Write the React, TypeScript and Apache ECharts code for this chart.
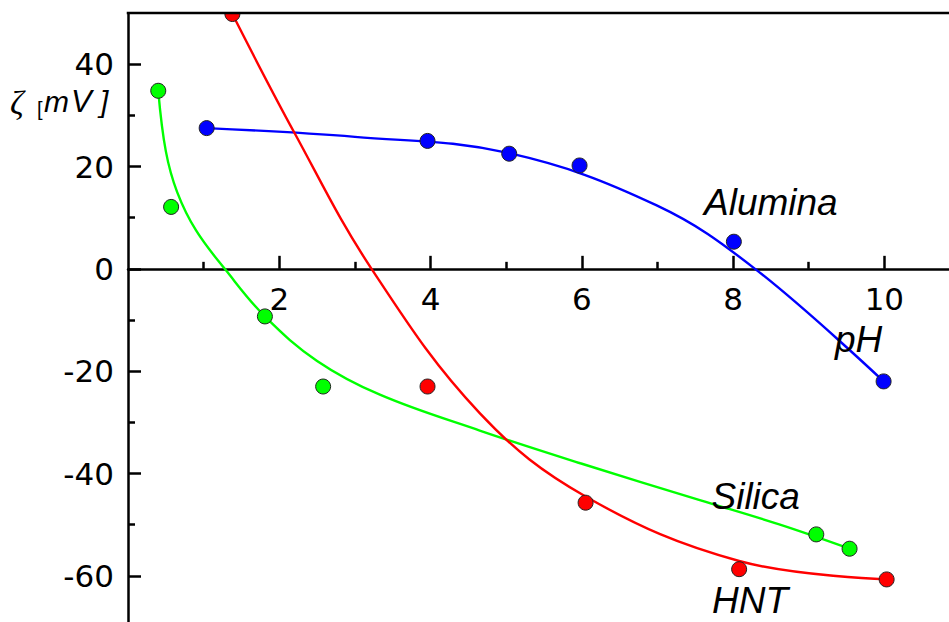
import React, { useEffect, useRef } from "react";
import * as echarts from "echarts";

// Axis ticks / labels
const xMajor = [2, 4, 6, 8, 10];
const xMinor = [1, 3, 5, 7, 9];
const yMajor = [-60, -40, -20, 0, 20, 40];
const yMinor = [-50, -30, -10, 10, 30];

// Measured points [pH, zeta mV]
const aluminaPts = [[1.04, 27.5], [3.96, 25.0], [5.04, 22.5], [5.97, 20.2], [8.01, 5.3], [9.99, -22.0]];
const silicaPts = [[0.4, 34.8], [0.57, 12.1], [1.81, -9.3], [2.58, -23.0], [9.1, -51.9], [9.54, -54.7]];
const hntPts = [[1.38, 49.8], [3.96, -23.0], [6.05, -45.7], [8.08, -58.7], [10.03, -60.7]];

// Fitted curves
const aluminaFit = [[1.04, 27.5], [3.0, 25.8], [5.04, 22.6], [6.99, 12.4], [8.29, 0], [9.99, -22.0]];
const silicaFit = [[0.4, 34.8], [0.5, 23.0], [0.65, 15.0], [0.9, 7.5], [1.29, -0.2], [1.81, -9.3], [2.5, -18.0], [3.33, -24.6], [4.65, -31.6], [5.98, -38.0], [7.56, -45.2], [8.62, -50.0], [9.54, -54.7]];
const hntFit = [[1.38, 49.8], [2.2, 26.6], [3.22, 0], [4.65, -28.2], [6.05, -44.5], [8.08, -57.1], [10.03, -60.7]];

const BLUE = "#0000ff";
const GREEN = "#00ff00";
const RED = "#ff0000";

export default function App() {
  const ref = useRef<HTMLDivElement>(null);
  useEffect(() => {
    if (!ref.current) return;
    const chart = echarts.init(ref.current, null, { renderer: "svg" });
    const axisLineStyle = { color: "#000", width: 2.5 };
    const tickFont = { color: "#000", fontFamily: "DejaVu Sans", fontSize: 31 };
    const lineSeries = (name: string, data: number[][], color: string) => ({
      name,
      type: "line",
      data,
      smooth: 0.38,
      showSymbol: false,
      symbol: "none",
      lineStyle: { color, width: 2.4 },
      z: 2,
    });
    const ptSeries = (name: string, data: number[][], color: string) => ({
      name,
      type: "scatter",
      data,
      symbol: "circle",
      symbolSize: 15,
      itemStyle: { color, borderColor: "#222", borderWidth: 1, opacity: 1 },
      z: 3,
    });
    const annFont = 'italic 37px "Liberation Sans", Arial, sans-serif';
    const txt = (text: string, x: number, y: number, font: string) => ({
      type: "text",
      x,
      y,
      style: { text, font, fill: "#000", textAlign: "left", textVerticalAlign: "middle" },
      z: 50,
    });
    const option: any = {
      animation: false,
      backgroundColor: "#fff",
      grid: {
        left: 128,
        top: 13,
        right: -11,
        bottom: -5,
        show: false,
        containLabel: false,
        outerBoundsMode: "none",
      },
      xAxis: [
        {
          type: "value",
          min: 0,
          max: 11,
          interval: 1,
          position: "bottom",
          axisLine: { show: true, onZero: true, onZeroAxisIndex: 0, lineStyle: axisLineStyle },
          axisTick: { show: true, inside: true, length: 13, customValues: xMajor, lineStyle: axisLineStyle },
          axisLabel: { show: false },
          splitLine: { show: false },
        },
        {
          type: "value",
          min: 0,
          max: 11,
          interval: 1,
          position: "bottom",
          axisLine: { show: false, onZero: true, onZeroAxisIndex: 0 },
          axisTick: { show: true, inside: true, length: 7, customValues: xMinor, lineStyle: axisLineStyle },
          axisLabel: { show: false },
          splitLine: { show: false },
        },
        {
          // tick labels just below the zero line
          type: "value",
          min: 0,
          max: 11,
          interval: 1,
          position: "top",
          offset: -256,
          axisLine: { show: false, onZero: false },
          axisTick: { show: false },
          axisLabel: { show: true, inside: true, customValues: xMajor, margin: 14, ...tickFont },
          splitLine: { show: false },
        },
      ],
      yAxis: [
        {
          type: "value",
          min: -70,
          max: 50,
          interval: 10,
          position: "left",
          axisLine: { show: true, onZero: false, lineStyle: axisLineStyle },
          axisTick: { show: true, inside: true, length: 13, customValues: yMajor, lineStyle: axisLineStyle },
          axisLabel: { show: true, customValues: yMajor, margin: 14, ...tickFont },
          splitLine: { show: false },
        },
        {
          type: "value",
          min: -70,
          max: 50,
          interval: 10,
          position: "left",
          axisLine: { show: false, onZero: false },
          axisTick: { show: true, inside: true, length: 7, customValues: yMinor, lineStyle: axisLineStyle },
          axisLabel: { show: false },
          splitLine: { show: false },
        },
      ],
      series: [
        lineSeries("Alumina fit", aluminaFit, BLUE),
        lineSeries("Silica fit", silicaFit, GREEN),
        lineSeries("HNT fit", hntFit, RED),
        ptSeries("Alumina", aluminaPts, BLUE),
        ptSeries("Silica", silicaPts, GREEN),
        ptSeries("HNT", hntPts, RED),
      ],
      graphic: [
        { type: "rect", shape: { x: 0, y: 0, width: 949, height: 12 }, style: { fill: "#fff" }, z: 100 },
        { type: "line", shape: { x1: 126.75, y1: 13, x2: 949, y2: 13 }, style: { stroke: "#000", lineWidth: 2.5 }, z: 101 },
        txt("Alumina", 704, 202, annFont),
        txt("pH", 835, 339, annFont),
        txt("Silica", 711.5, 496.5, annFont),
        txt("HNT", 712, 600.5, annFont),
        txt("ζ", 10, 102, 'italic 34px "Liberation Serif", serif'),
        txt("[", 37, 109, '20px "Liberation Sans", sans-serif'),
        txt("m", 44, 101, 'italic 30px "Liberation Sans", sans-serif'),
        txt("V", 71, 101, 'italic 31px "Liberation Sans", sans-serif'),
        txt("]", 100, 101, 'italic 30px "Liberation Sans", sans-serif'),
      ],
    };
    chart.setOption(option);
    return () => chart.dispose();
  }, []);
  return (
    <div
      ref={ref}
      style={{ position: "absolute", left: 0, top: 0, width: 949, height: 622, background: "#fff" }}
    />
  );
}
